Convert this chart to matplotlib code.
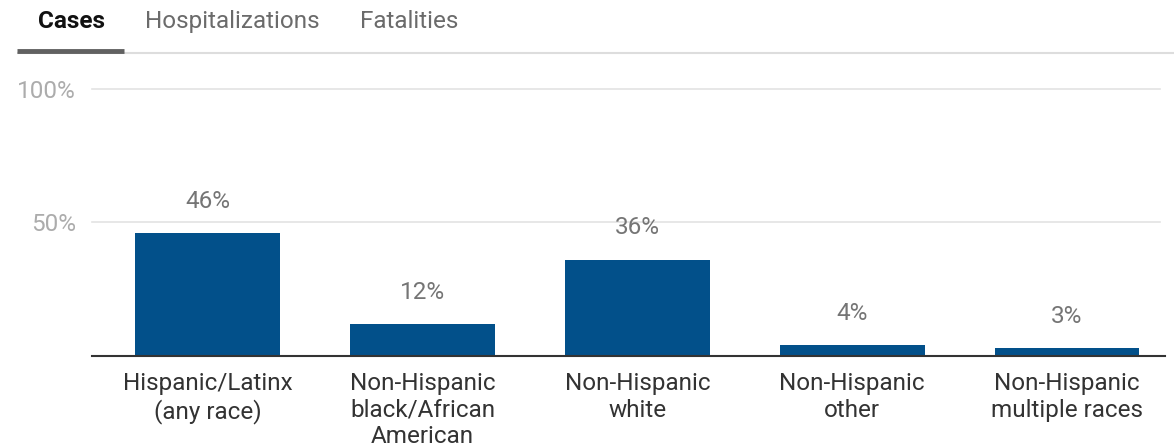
import matplotlib.pyplot as plt
from matplotlib.lines import Line2D

plt.rcParams['font.family'] = ['Roboto', 'DejaVu Sans']

categories = ['Hispanic/Latinx\n(any race)', 'Non-Hispanic\nblack/African\nAmerican',
              'Non-Hispanic\nwhite', 'Non-Hispanic\nother', 'Non-Hispanic\nmultiple races']
shares = [46, 12, 36, 4, 3]
y_ticks = [50, 100]
tabs = ['Cases', 'Hospitalizations', 'Fatalities']

W, H = 1174, 448
fig = plt.figure(figsize=(W / 100, H / 100), dpi=100)
ax = fig.add_axes([92 / W, 1 - 356 / H, 1068 / W, 267 / H])

x = list(range(len(shares)))
ax.bar(x, shares, width=0.675, color='#02508a', zorder=3)
for xi, v in zip(x, shares):
    ax.annotate(f'{v}%', (xi, v), xytext=(0, 23), textcoords='offset points',
                ha='center', va='center', fontsize=17.5, color='#757575')
    ax.annotate(categories[xi], (xi, 0), xytext=(0, -11.5), textcoords='offset points',
                ha='center', va='top', fontsize=17.5, color='#333333', linespacing=1.2,
                annotation_clip=False)

ax.set_xlim(-0.54, 4.433)
ax.set_ylim(0, 100)
for t in y_ticks:
    ax.axhline(t, color='#e3e3e3', lw=1.2, zorder=1, clip_on=False)
    ax.annotate(f'{t}%', (-0.615, t), xytext=(0, -1.5), textcoords='offset points',
                ha='right', va='center', fontsize=17.5, color='#acacac',
                annotation_clip=False)
ax.axhline(0, xmax=1.005, color='#333333', lw=1.5, zorder=4, clip_on=False)
ax.axis('off')

# tab strip above the chart
tab_x = [38, 145, 360]
for name, tx in zip(tabs, tab_x):
    fig.text(tx / W, 1 - 21.5 / H, name, ha='left', va='center', fontsize=17.5,
             color='#111111' if name == 'Cases' else '#6b6b6b',
             fontweight='bold' if name == 'Cases' else 'normal')
fig.add_artist(Line2D([17 / W, 1], [1 - 53 / H] * 2, color='#dddddd', lw=1.5,
                      solid_capstyle='butt'))
fig.add_artist(Line2D([17 / W, 124 / W], [1 - 51 / H] * 2, color='#616161', lw=3.5,
                      solid_capstyle='butt'))

fig.savefig('out.png', dpi=100)
